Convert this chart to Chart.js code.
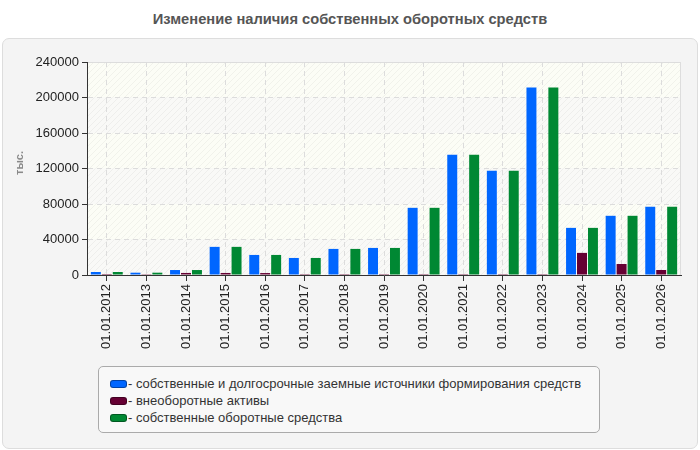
<!DOCTYPE html>
<html><head><meta charset="utf-8">
<script src="https://cdn.jsdelivr.net/npm/chart.js@4/dist/chart.umd.min.js"></script>
<style>
html,body{margin:0;padding:0;background:#fff;width:700px;height:450px;overflow:hidden;font-family:"Liberation Sans",Arial,sans-serif;}
#title{position:absolute;left:0;top:11px;width:700px;text-align:center;font-weight:bold;font-size:14.7px;color:#555;}
#panel{position:absolute;left:2px;top:38px;width:694px;height:409px;background:#f4f4f4;border:1px solid #ddd;border-radius:7px;}
#wrap{position:absolute;left:0;top:0;width:700px;height:450px;}
#legend{position:absolute;left:98px;top:366px;width:502px;height:67px;border:1px solid #aaa;border-radius:5px;background:#f8f8f8;box-sizing:border-box;padding-top:8px;}
.li{height:17px;line-height:17px;font-size:13px;color:#333;padding-left:11px;white-space:nowrap;}
.sw{display:inline-block;width:17px;height:8px;border-radius:3px;margin-right:1px;vertical-align:0px;box-sizing:border-box;border:1px solid rgba(0,0,0,0.35);}
#ylab{position:absolute;left:7px;top:163px;transform:translate(0,-50%) rotate(-90deg);transform-origin:center;font-size:11px;font-weight:bold;color:#888;}
</style></head>
<body>
<div id="title">Изменение наличия собственных оборотных средств</div>
<div id="panel"></div>
<div id="wrap"><canvas id="c" width="700" height="450"></canvas></div>
<div id="ylab">тыс.</div>
<div id="legend"></div>
<script>
const categories = ["01.01.2012","01.01.2013","01.01.2014","01.01.2015","01.01.2016","01.01.2017","01.01.2018","01.01.2019","01.01.2020","01.01.2021","01.01.2022","01.01.2023","01.01.2024","01.01.2025","01.01.2026"];
const ownAndLongTerm = [3400,2600,5600,31700,22600,19200,29400,30500,75700,135600,117500,211400,53100,66700,76900];
const nonCurrentAssets = [1100,900,2300,2300,2200,1000,1000,1000,1000,1000,1000,1000,24900,12400,5650];
const ownWorkingCapital = [3400,2600,5600,31700,22600,19200,29400,30500,75700,135600,117500,211400,53100,66700,76900];
const seriesNames = ["- собственные и долгосрочные заемные источники формирования средств","- внеоборотные активы","- собственные оборотные средства"];
const seriesColors = ["#0066ff","#660033","#008833"];
const yTicks = [0,40000,80000,120000,160000,200000,240000];

function makePattern(base){
  const p=document.createElement('canvas');p.width=6;p.height=6;
  const g=p.getContext('2d');g.fillStyle=base;g.fillRect(0,0,6,6);
  g.strokeStyle='rgba(0,0,0,0.045)';g.lineWidth=1;
  g.beginPath();g.moveTo(0,6);g.lineTo(6,0);g.moveTo(-3,3);g.lineTo(3,-3);g.moveTo(3,9);g.lineTo(9,3);g.stroke();
  return g.createPattern(p,'repeat');
}
const bgPlugin={id:'bg',beforeDraw(chart){
  const {ctx,chartArea:a,scales:{y}}=chart;
  ctx.save();
  const pA=makePattern('#fcfdf6'), pB=makePattern('#f9f9f7');
  for(let i=0;i<yTicks.length-1;i++){
    const t=y.getPixelForValue(yTicks[i+1]), b=y.getPixelForValue(yTicks[i]);
    ctx.fillStyle=((yTicks.length-2-i)%2===0)?pA:pB;
    ctx.fillRect(a.left,t,a.right-a.left,b-t);
  }
  ctx.strokeStyle='#dddddd';ctx.lineWidth=1;
  ctx.beginPath();ctx.moveTo(a.left,a.top+0.5);ctx.lineTo(a.right,a.top+0.5);ctx.moveTo(a.right-0.5,a.top);ctx.lineTo(a.right-0.5,a.bottom);ctx.stroke();
  ctx.restore();
}};

const datasets=[ownAndLongTerm,nonCurrentAssets,ownWorkingCapital].map((d,i)=>({
  label:seriesNames[i],data:d,backgroundColor:seriesColors[i],borderWidth:0,
  categoryPercentage:0.83,barPercentage:0.91
}));

new Chart(document.getElementById('c'),{
  type:'bar',
  data:{labels:categories,datasets},
  plugins:[bgPlugin],
  options:{
    responsive:false,animation:false,
    layout:{padding:{left:0,right:19,top:62,bottom:0}},
    plugins:{legend:{display:false},tooltip:{enabled:false}},
    scales:{
      x:{
        grid:{offset:false,color:'#dcdcdc',tickColor:'#333',tickLength:6,drawTicks:true},
        border:{color:'#333',width:1,dash:[5,4]},
        ticks:{color:'#222',font:{family:'"Liberation Sans", Arial',size:13},maxRotation:90,minRotation:90,padding:3,autoSkip:false},
        afterFit(s){s.height=175;}
      },
      y:{
        min:0,max:240000,
        afterBuildTicks(s){s.ticks=yTicks.map(v=>({value:v}));},
        grid:{color:'#dcdcdc',tickColor:'#333',tickLength:5},
        border:{color:'#333',width:1,dash:[5,4]},
        ticks:{color:'#222',font:{family:'"Liberation Sans", Arial',size:13},padding:3,callback:v=>String(v)},
        afterFit(s){s.width=87;}
      }
    }
  }
});

const lg=document.getElementById('legend');
seriesNames.forEach((n,i)=>{
  const d=document.createElement('div');d.className='li';
  const sw=document.createElement('span');sw.className='sw';sw.style.background=seriesColors[i];
  d.appendChild(sw);d.appendChild(document.createTextNode(n));lg.appendChild(d);
});
</script>
</body></html>
